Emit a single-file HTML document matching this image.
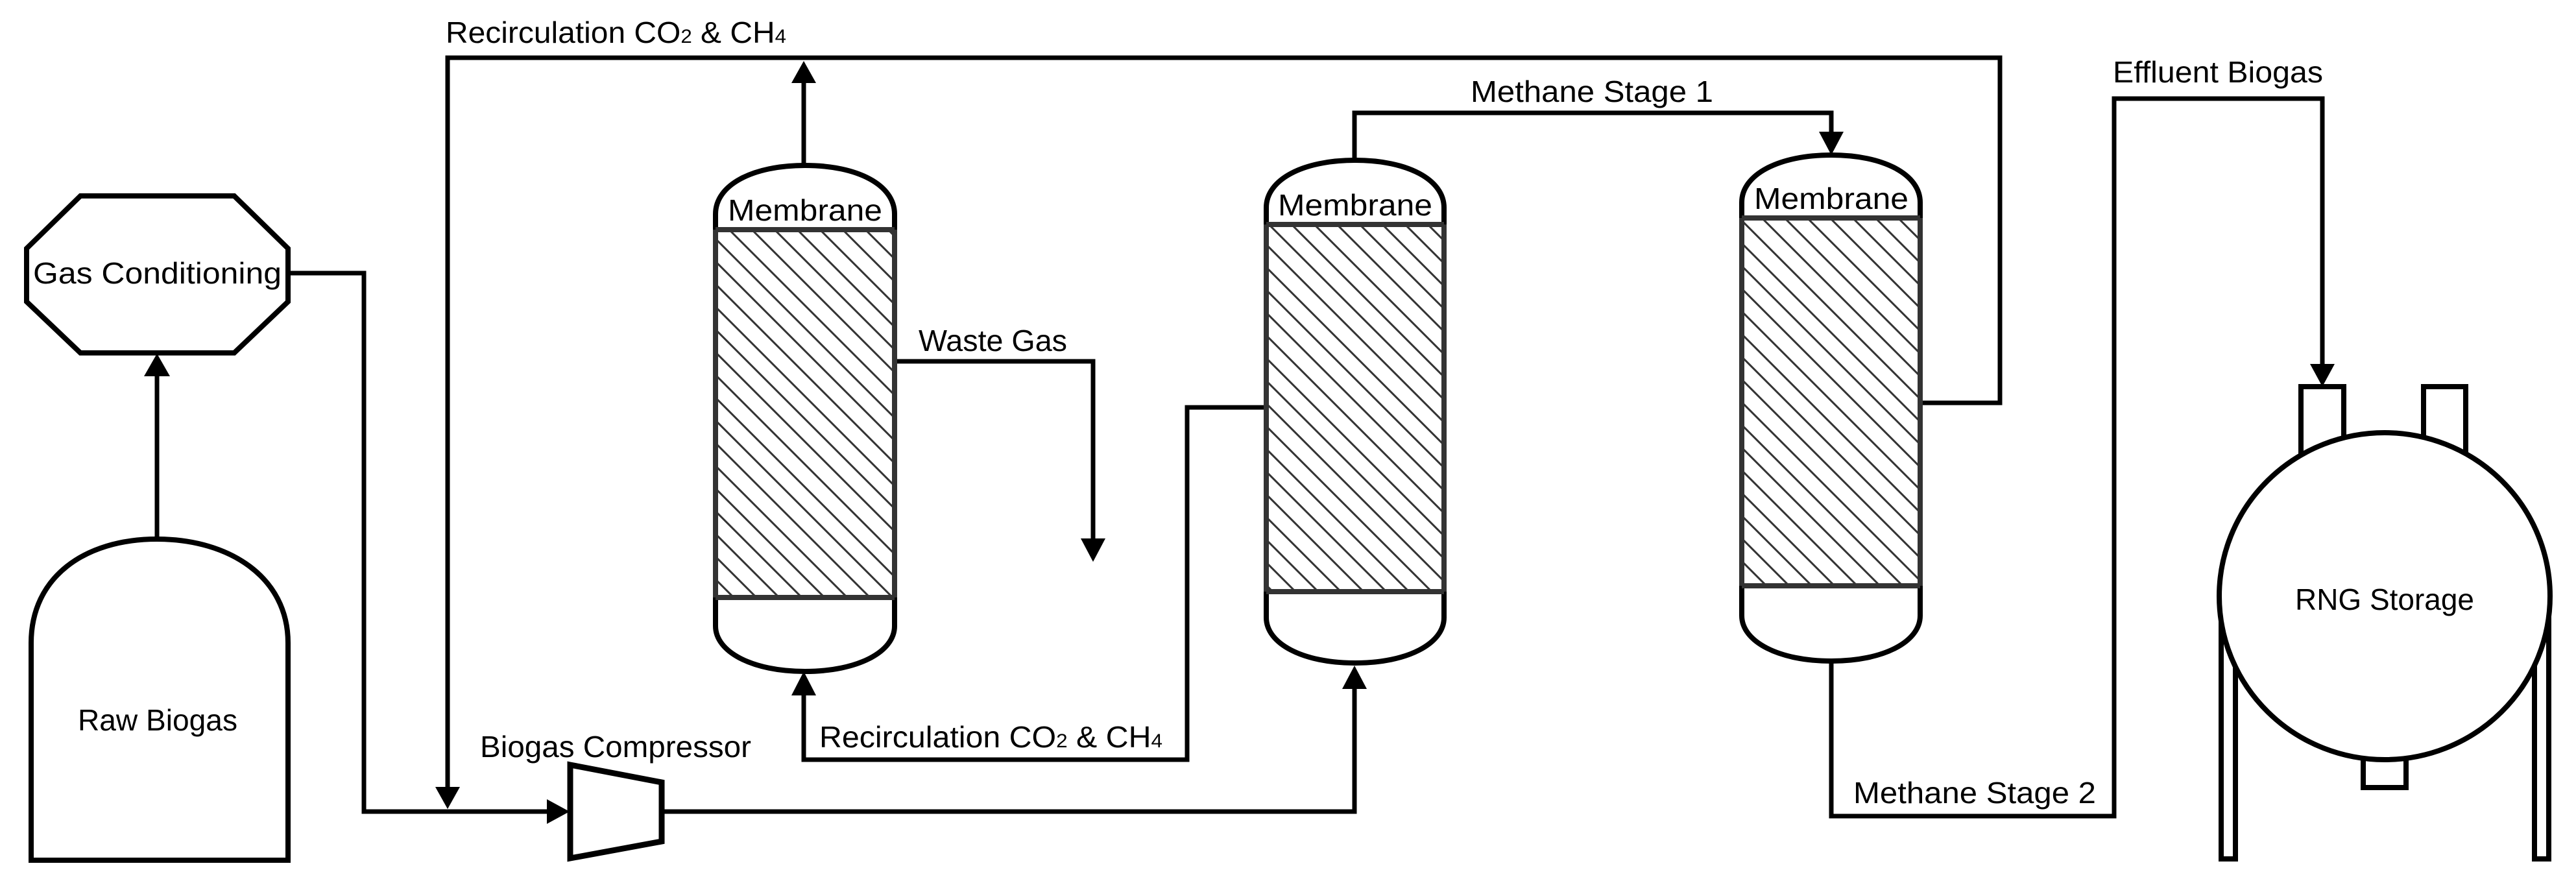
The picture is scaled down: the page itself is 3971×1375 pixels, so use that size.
<!DOCTYPE html>
<html><head><meta charset="utf-8"><style>html,body{margin:0;padding:0;background:#fff}svg{display:block}</style></head>
<body>
<svg width="3971" height="1375" viewBox="0 0 3971 1375" xmlns="http://www.w3.org/2000/svg" font-family="Liberation Sans, sans-serif" font-size="46">
<defs>
<pattern id="h" patternUnits="userSpaceOnUse" width="35" height="35">
<path d="M-5,-5 L40,40 M-40,-5 L5,40 M30,-5 L75,40" stroke="#333" stroke-width="3"/>
</pattern>
</defs>
<g fill="none" stroke="#000" stroke-width="7">
<path d="M48,1326 L48,991 C48,890 130,831 242,831 C354,831 444,890 444,991 L444,1326 Z" stroke-width="8"/>
<polygon points="124,302 361,302 444,383 444,465 361,544 124,544 41,465 41,383" stroke-width="8"/>
<polygon points="879,1179 1020,1206 1020,1297 879,1323" stroke-width="9"/>
<line x1="242" y1="831" x2="242" y2="575"/>
<polyline points="444,421 561,421 561,1251 845,1251"/>
<polyline points="2963,621 3083,621 3083,89 690,89 690,1215"/>
<line x1="1239" y1="256" x2="1239" y2="125"/>
<polyline points="1378,557 1685,557 1685,832"/>
<polyline points="1952,628 1830,628 1830,1171 1239,1171 1239,1070"/>
<polyline points="1020,1251 2088,1251 2088,1060"/>
<polyline points="2088,247 2088,174 2823,174 2823,205"/>
<polyline points="2823,1019 2823,1258 3259,1258 3259,152 3580,152 3580,563"/>
</g>
<g fill="#000">
<polygon points="242,545 222,580 262,580"/>
<polygon points="878,1251 843,1232 843,1270"/>
<polygon points="690,1247 671,1213 709,1213"/>
<polygon points="1239,94 1220,128 1258,128"/>
<polygon points="1685,866 1666,830 1704,830"/>
<polygon points="1239,1035 1220,1072 1258,1072"/>
<polygon points="2088,1026 2069,1062 2107,1062"/>
<polygon points="2823,239 2804,203 2842,203"/>
<polygon points="3580,596 3561,561 3599,561"/>
</g>
<g stroke-width="8">
<g>
<rect x="1103" y="354" width="276" height="567" fill="url(#h)"/>
<path d="M1103,921 L1103,965 C1103,1005 1160,1035 1241,1035 C1322,1035 1379,1005 1379,965 L1379,921 M1103,354 L1103,330 C1103,285 1160,255 1241,255 C1322,255 1379,285 1379,330 L1379,354" fill="none" stroke="#000"/>
<path d="M1103,354 L1379,354 M1103,921 L1379,921 M1103,354 L1103,921 M1379,354 L1379,921" stroke="#333"/>
<text x="1241" y="340" text-anchor="middle" textLength="238" lengthAdjust="spacingAndGlyphs">Membrane</text>
</g>
<g>
<rect x="1952" y="346" width="274" height="566" fill="url(#h)"/>
<path d="M1952,912 L1952,952 C1952,992 2008,1022 2089,1022 C2170,1022 2226,992 2226,952 L2226,912 M1952,346 L1952,320 C1952,277 2008,247 2089,247 C2170,247 2226,277 2226,320 L2226,346" fill="none" stroke="#000"/>
<path d="M1952,346 L2226,346 M1952,912 L2226,912 M1952,346 L1952,912 M2226,346 L2226,912" stroke="#333"/>
<text x="2089" y="332" text-anchor="middle" textLength="238" lengthAdjust="spacingAndGlyphs">Membrane</text>
</g>
<g>
<rect x="2685" y="336" width="275" height="567" fill="url(#h)"/>
<path d="M2685,903 L2685,949 C2685,989 2742,1019 2823,1019 C2904,1019 2960,989 2960,949 L2960,903 M2685,336 L2685,312 C2685,269 2742,239 2823,239 C2904,239 2960,269 2960,312 L2960,336" fill="none" stroke="#000"/>
<path d="M2685,336 L2960,336 M2685,903 L2960,903 M2685,336 L2685,903 M2960,336 L2960,903" stroke="#333"/>
<text x="2823" y="322" text-anchor="middle" textLength="238" lengthAdjust="spacingAndGlyphs">Membrane</text>
</g>
</g>
<g stroke="#000" stroke-width="8" fill="#fff">
<rect x="3424" y="900" width="22" height="424"/>
<rect x="3907" y="900" width="22" height="424"/>
<rect x="3547" y="596" width="66" height="140"/>
<rect x="3736" y="596" width="65" height="140"/>
<rect x="3643" y="1120" width="66" height="94"/>
<ellipse cx="3676" cy="919" rx="255" ry="252"/>
</g>
<g fill="#000">
<text x="243" y="1126" text-anchor="middle" textLength="246" lengthAdjust="spacingAndGlyphs">Raw Biogas</text>
<text x="51" y="437" textLength="383" lengthAdjust="spacingAndGlyphs">Gas  Conditioning</text>
<text x="740" y="1167" textLength="418" lengthAdjust="spacingAndGlyphs">Biogas Compressor</text>
<text x="687" y="66" textLength="525" lengthAdjust="spacingAndGlyphs">Recirculation CO<tspan font-size="30">2</tspan> &amp; CH<tspan font-size="30">4</tspan></text>
<text x="1263" y="1152" textLength="529" lengthAdjust="spacingAndGlyphs">Recirculation CO<tspan font-size="30">2</tspan> &amp; CH<tspan font-size="30">4</tspan></text>
<text x="1416" y="541" textLength="229" lengthAdjust="spacingAndGlyphs">Waste Gas</text>
<text x="2267" y="157" textLength="374" lengthAdjust="spacingAndGlyphs">Methane Stage 1</text>
<text x="2857" y="1238" textLength="374" lengthAdjust="spacingAndGlyphs">Methane Stage 2</text>
<text x="3257" y="127" textLength="324" lengthAdjust="spacingAndGlyphs">Effluent Biogas</text>
<text x="3676" y="940" text-anchor="middle" textLength="276" lengthAdjust="spacingAndGlyphs">RNG Storage</text>
</g>
</svg>
</body></html>
